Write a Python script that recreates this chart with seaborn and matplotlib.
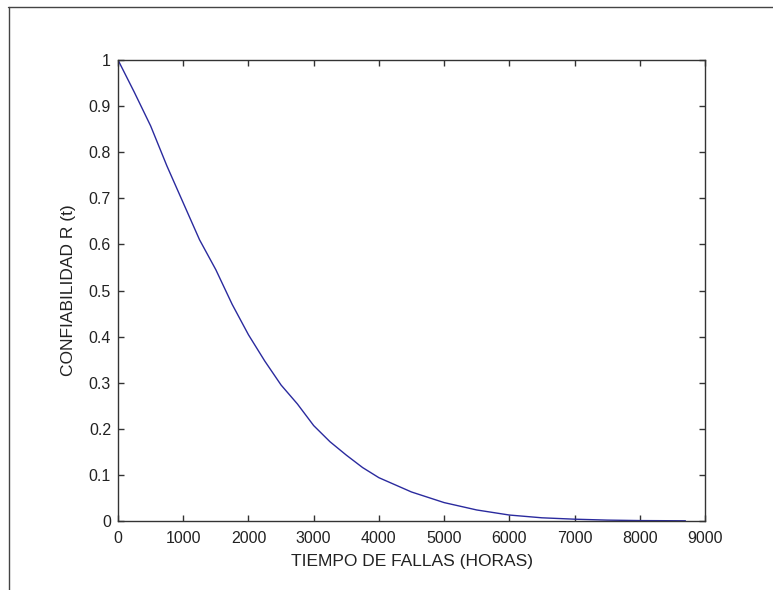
import matplotlib
matplotlib.use("Agg")
import matplotlib.pyplot as plt
from matplotlib.lines import Line2D
import seaborn as sns
import pandas as pd

# Data
tiempo_horas = [0, 250, 500, 750, 1000, 1250, 1500, 1750, 2000, 2250, 2500,
                2750, 3000, 3250, 3500, 3750, 4000, 4500, 5000, 5500, 6000,
                6500, 7000, 7500, 8000, 8700]
confiabilidad = [1.0, 0.93, 0.857, 0.77, 0.69, 0.61, 0.545, 0.47, 0.404,
                 0.347, 0.295, 0.254, 0.207, 0.172, 0.143, 0.116, 0.094,
                 0.063, 0.040, 0.024, 0.013, 0.007, 0.004, 0.002, 0.001,
                 0.0005]
x_ticks = [0, 1000, 2000, 3000, 4000, 5000, 6000, 7000, 8000, 9000]
y_ticks = [0, 0.1, 0.2, 0.3, 0.4, 0.5, 0.6, 0.7, 0.8, 0.9, 1]
y_tick_labels = ["0", "0.1", "0.2", "0.3", "0.4", "0.5", "0.6", "0.7", "0.8", "0.9", "1"]

sns.set_theme(style="white")
plt.rcParams["font.family"] = ["Liberation Sans", "DejaVu Sans"]

df = pd.DataFrame({"t": tiempo_horas, "R": confiabilidad})

fig = plt.figure(figsize=(7.73, 5.90), dpi=100)
ax = fig.add_axes([0.1527, 0.1169, 0.912 - 0.1527, 0.8983 - 0.1169])

sns.lineplot(data=df, x="t", y="R", ax=ax, color="#2a2a9e", linewidth=1.0)

ax.set_xlim(0, 9000)
ax.set_ylim(0, 1)
ax.set_xticks(x_ticks)
ax.set_xticklabels([str(v) for v in x_ticks])
ax.set_yticks(y_ticks)
ax.set_yticklabels(y_tick_labels)

for s in ax.spines.values():
    s.set_visible(True)
    s.set_color("#333333")
    s.set_linewidth(1.0)

ax.tick_params(axis="both", which="both", direction="in", length=4, width=1.0,
               color="#333333", labelsize=11.5, labelcolor="#222222",
               top=True, right=True, bottom=True, left=True, pad=5)
ax.tick_params(axis="x", pad=7)

ax.set_xlabel("TIEMPO DE FALLAS (HORAS)", fontsize=12.5, color="#222222", labelpad=6)
ax.set_ylabel("CONFIABILIDAD R (t)", fontsize=12.5, color="#222222", labelpad=9)

# Outer frame lines (top and left) as in the reference screenshot
W, H = 773, 590
fig.add_artist(Line2D([8 / W, 1.0], [1 - 7 / H, 1 - 7 / H], transform=fig.transFigure,
                      color="#444444", linewidth=1.0))
fig.add_artist(Line2D([9 / W, 9 / W], [0.0, 1 - 7 / H], transform=fig.transFigure,
                      color="#444444", linewidth=1.0))

fig.savefig("out.png", dpi=100, facecolor="white")
